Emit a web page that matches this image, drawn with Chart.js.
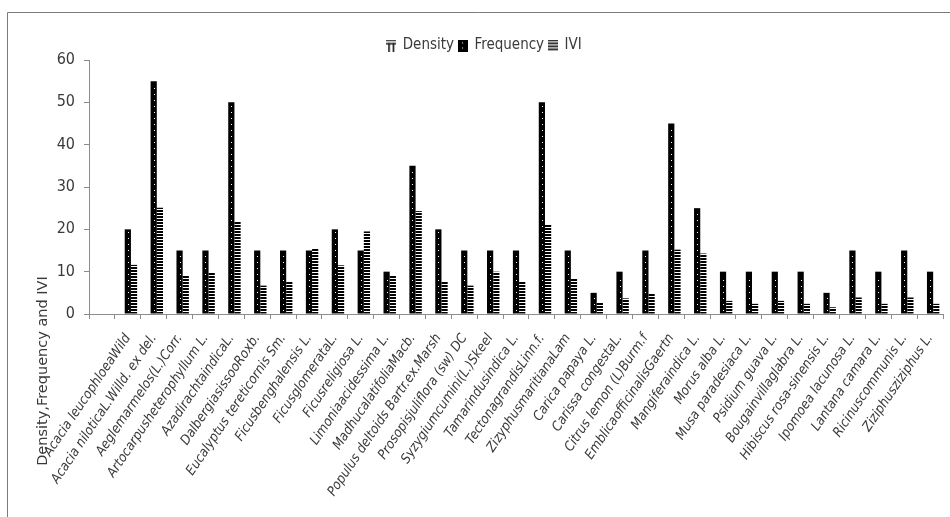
<!DOCTYPE html>
<html>
<head>
<meta charset="utf-8">
<script src="https://cdn.jsdelivr.net/npm/chart.js@4.4.1/dist/chart.umd.min.js"></script>
<style>
  html, body { margin: 0; padding: 0; background: #fff; }
</style>
</head>
<body>
<canvas id="chart" width="950" height="517"></canvas>
<script>
// --- Data ---
const species = ['', 'Acacia leucophloeaWild', 'Acacia niloticaL.Willd. ex del.', 'Aeglemarmelos(L.)Corr.',
  'Artocarpusheterophyllum L.', 'AzadirachtaindicaL.', 'DalbergiasissooRoxb.', 'Eucalyptus tereticornis Sm.',
  'Ficusbenghalensis L.', 'FicusglomerataL.', 'Ficusreligiosa L.', 'Limoniaacidessima L.',
  'MadhucalatifoliaMacb.', 'Populus deltoids Bartr.ex.Marsh', 'Prosopisjuliflora (sw) DC',
  'Syzygiumcumini(L.)Skeel', 'Tamarindusindica L.', 'TectonagrandisLinn.f.', 'ZizyphusmaritianaLam',
  'Carica papaya L.', 'Carissa congestaL.', 'Citrus lemon (L)Burm.f', 'EmblicaofficinalisGaertn',
  'Mangiferaindica L.', 'Morus alba L.', 'Musa paradesiaca L.', 'Psidium guava L.', 'Bougainvillaglabra L.',
  'Hibiscus rosa-sinensis L.', 'Ipomoea lacunosa L.', 'Lantana camara L.', 'Ricinuscommunis L.',
  'Ziziphusziziphus L.'];

const density = [null, 0, 0, 0, 0, 0, 0, 0, 0, 0, 0, 0, 0, 0, 0, 0, 0, 0, 0, 0, 0, 0, 0, 0, 0, 0, 0, 0, 0, 0, 0, 0, 0];
const frequency = [null, 20, 55, 15, 15, 50, 15, 15, 15, 20, 15, 10, 35, 20, 15, 15, 15, 50, 15, 5, 10, 15, 45, 25,
  10, 10, 10, 10, 5, 15, 10, 15, 10];
const ivi = [null, 11.6, 25.1, 9.2, 9.9, 21.9, 6.7, 7.6, 15.5, 11.5, 19.5, 9.2, 24.3, 7.6, 6.7, 10, 7.6, 21.2, 8.3,
  2.7, 3.7, 4.8, 15.2, 14.3, 3.1, 2.4, 3.1, 2.4, 1.6, 3.9, 2.4, 3.9, 2.4];

const yTicks = [0, 10, 20, 30, 40, 50, 60];
const yTitle = 'Density,Frequency and IVI';

const FONT = "'DejaVu Sans Condensed', 'Liberation Sans Narrow', sans-serif";
const TEXT = '#3a3a3a';
const AXIS = '#8c8c8c';

// --- Fill patterns & legend icons ---
function makeCanvas(w, h, draw) {
  const c = document.createElement('canvas');
  c.width = w; c.height = h;
  draw(c.getContext('2d'));
  return c;
}
const ctx = document.getElementById('chart').getContext('2d');

const stripeTile = makeCanvas(4, 3, g => { g.fillStyle = '#fff'; g.fillRect(0, 0, 4, 3); g.fillStyle = '#000'; g.fillRect(0, 0, 4, 2); });
const iviPattern = ctx.createPattern(stripeTile, 'repeat');
const vertTile = makeCanvas(3, 4, g => { g.fillStyle = '#fff'; g.fillRect(0, 0, 3, 4); g.fillStyle = '#000'; g.fillRect(0, 0, 1, 4); });
const densityPattern = ctx.createPattern(vertTile, 'repeat');

const iconDensity = makeCanvas(10, 12, g => {
  g.fillStyle = '#111';
  g.fillRect(0, 0, 10, 1.5);
  g.fillRect(0, 3.5, 10, 1.5);
  g.fillRect(2, 3.5, 1.6, 8.5);
  g.fillRect(6.5, 3.5, 1.6, 8.5);
});
const iconFreq = makeCanvas(10, 12, g => {
  g.fillStyle = '#000'; g.fillRect(0, 0, 10, 12);
  g.fillStyle = '#fff'; g.fillRect(4, 3, 1, 1); g.fillRect(4, 8, 1, 1);
});
const iconIvi = makeCanvas(10, 12, g => {
  g.fillStyle = '#111';
  for (let y = 0; y < 12; y += 3) g.fillRect(0, y, 10, 1.7);
});
const legendIcons = [iconDensity, iconFreq, iconIvi];

// --- Plugins: frame, y title, dots on the Frequency bars ---
const frame = {
  id: 'frame',
  beforeDraw(chart) {
    const g = chart.ctx;
    g.save();
    g.strokeStyle = '#7a7a7a';
    g.lineWidth = 1;
    g.beginPath();
    g.moveTo(7.5, 517); g.lineTo(7.5, 12.5); g.lineTo(950, 12.5);
    g.stroke();
    g.restore();
  }
};

const sideTitle = {
  id: 'sideTitle',
  afterDraw(chart) {
    const g = chart.ctx;
    g.save();
    g.translate(43, 371);
    g.rotate(-Math.PI / 2);
    g.font = "14.5px 'DejaVu Sans', sans-serif";
    g.fillStyle = TEXT;
    g.textAlign = 'center';
    g.textBaseline = 'middle';
    g.fillText(yTitle, 0, 0);
    g.restore();
  }
};

// nudge the legend a bit right, as in the source figure
const legendShift = {
  id: 'legendShift',
  afterLayout(chart) {
    const lg = chart.legend;
    lg.left += 13; lg.right += 13;
    lg.top += 3; lg.bottom += 3;
  }
};

const freqDots = {
  id: 'freqDots',
  afterDatasetsDraw(chart) {
    const meta = chart.getDatasetMeta(1);
    const g = chart.ctx;
    g.save();
    g.fillStyle = '#fff';
    meta.data.forEach(bar => {
      if (bar.skip || bar.y == null || isNaN(bar.y)) return;
      const cx = Math.round(bar.x);
      for (let y = bar.base - 4; y > bar.y + 2; y -= 6) {
        g.fillRect(cx, Math.round(y), 1, 1);
      }
    });
    g.restore();
  }
};

// --- Chart ---
new Chart(ctx, {
  type: 'bar',
  data: {
    labels: species,
    datasets: [
      { label: 'Density', data: density, backgroundColor: densityPattern },
      { label: 'Frequency', data: frequency, backgroundColor: '#000' },
      { label: 'IVI', data: ivi, backgroundColor: iviPattern }
    ]
  },
  options: {
    responsive: false,
    animation: false,
    events: [],
    layout: { padding: { top: 30, right: 7, left: 0, bottom: 0 } },
    datasets: { bar: { categoryPercentage: 0.72, barPercentage: 1.0 } },
    scales: {
      x: {
        grid: { display: true, drawOnChartArea: false, drawTicks: true, tickLength: 5, color: AXIS, offset: true },
        border: { color: AXIS },
        ticks: {
          autoSkip: false, minRotation: 56, maxRotation: 56, padding: 12,
          color: TEXT, font: { family: FONT, size: 13.5, style: 'italic' }
        },
        afterFit(scale) { scale.height = 203; scale.paddingRight = 0; scale.paddingLeft = 0; }
      },
      y: {
        min: 0, max: 60,
        afterBuildTicks(scale) { scale.ticks = yTicks.map(v => ({ value: v })); },
        grid: { display: true, drawOnChartArea: false, drawTicks: true, tickLength: 5, color: AXIS },
        border: { color: AXIS },
        ticks: { padding: 9, color: TEXT, font: { family: FONT, size: 16 } },
        afterFit(scale) { scale.width = 89; }
      }
    },
    plugins: {
      tooltip: { enabled: false },
      legend: {
        position: 'top',
        labels: {
          usePointStyle: true,
          pointStyleWidth: 8,
          padding: 5,
          color: TEXT,
          font: { family: FONT, size: 15 },
          generateLabels(chart) {
            const items = Chart.defaults.plugins.legend.labels.generateLabels(chart);
            items.forEach((it, i) => { it.pointStyle = legendIcons[i]; });
            return items;
          }
        }
      }
    }
  },
  plugins: [frame, sideTitle, legendShift, freqDots]
});
</script>
</body>
</html>
